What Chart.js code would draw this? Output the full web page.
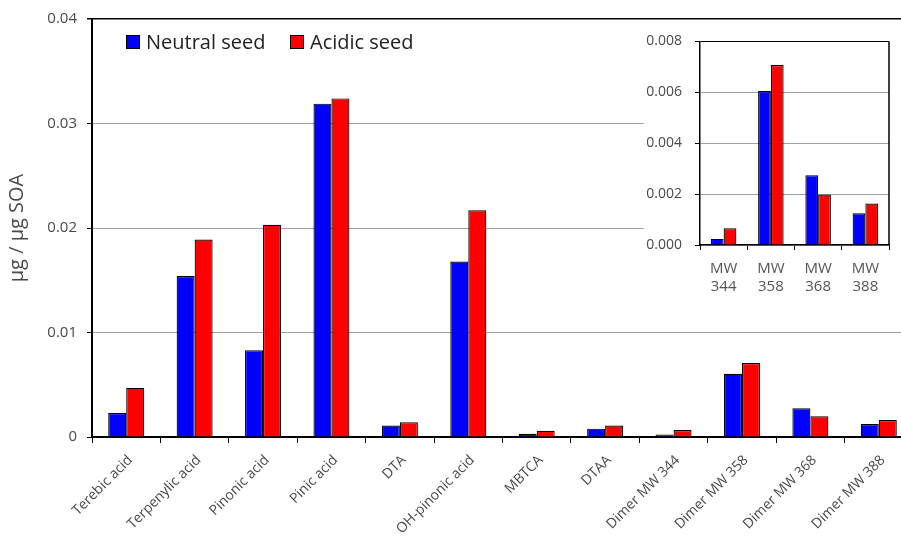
<!DOCTYPE html>
<html lang="en">
<head>
    <meta charset="UTF-8">
    <title>Seed acidity - SOA tracers</title>
    <script src="https://cdn.jsdelivr.net/npm/chart.js"></script>
    <style>
      html, body { margin: 0; padding: 0; overflow: hidden; background: #fff; }
      #wrap { position: relative; width: 901px; height: 537px; overflow: hidden; }
      #mainChart { position: absolute; left: 0; top: 0; }
      #insetChart { position: absolute; left: 644px; top: 20px; background: #fff; }
    </style>
</head>
<body>
<div id="wrap">
    <canvas id="mainChart" width="916" height="537"></canvas>
    <canvas id="insetChart" width="257" height="290"></canvas>
</div>

<script>
    const categories = ['Terebic acid', 'Terpenylic acid', 'Pinonic acid', 'Pinic acid', 'DTA',
        'OH-pinonic acid', 'MBTCA', 'DTAA', 'Dimer MW 344', 'Dimer MW 358', 'Dimer MW 368', 'Dimer MW 388'];
    const neutralSeed = [0.0023, 0.0154, 0.0083, 0.0319, 0.0011, 0.0168, 0.0003, 0.0008,
        0.00024, 0.00605, 0.00274, 0.00125];
    const acidicSeed = [0.0047, 0.0189, 0.0203, 0.0324, 0.0014, 0.0217, 0.0006, 0.0011,
        0.00066, 0.00707, 0.00198, 0.00163];
    const mainTicks = ['0', '0.01', '0.02', '0.03', '0.04'];

    // inset: the four dimers
    const insetCategories = [['MW', '344'], ['MW', '358'], ['MW', '368'], ['MW', '388']];
    const insetNeutral = neutralSeed.slice(8);
    const insetAcidic = acidicSeed.slice(8);
    const insetTicks = ['0.000', '0.002', '0.004', '0.006', '0.008'];

    const FONT = '"Open Sans", "Noto Sans", sans-serif';
    const TEXT = '#4a4a4a';

    const legendPlugin = {
        id: 'legendPlugin',
        afterDraw(chart) {
            const {ctx, chartArea} = chart;
            ctx.save();
            ctx.font = '20px ' + FONT;
            ctx.textBaseline = 'middle';
            let x = chartArea.left + 34;
            const y = chartArea.top + 16;
            chart.data.datasets.forEach(ds => {
                ctx.fillStyle = ds.backgroundColor;
                ctx.fillRect(x, y, 14, 14);
                ctx.strokeStyle = '#000';
                ctx.lineWidth = 1;
                ctx.strokeRect(x + 0.5, y + 0.5, 13, 13);
                ctx.fillStyle = '#222';
                ctx.fillText(ds.label, x + 20, y + 8);
                x += 164;
            });
            ctx.restore();
        }
    };

    const rightBorder = {
        id: 'rightBorder',
        afterDraw(chart) {
            const {ctx, chartArea} = chart;
            ctx.save();
            ctx.strokeStyle = '#000';
            ctx.lineWidth = 1.5;
            ctx.beginPath();
            ctx.moveTo(chartArea.right, chartArea.top);
            ctx.lineTo(chartArea.right, chartArea.bottom);
            ctx.stroke();
            ctx.restore();
        }
    };

    function barSet(label, data, color) {
        return {
            label: label,
            data: data,
            backgroundColor: color,
            borderColor: '#000',
            borderWidth: 1.2,
            borderSkipped: 'start'
        };
    }

    new Chart(document.getElementById('mainChart'), {
        type: 'bar',
        data: {
            labels: categories,
            datasets: [
                barSet('Neutral seed', neutralSeed, '#0000ff'),
                barSet('Acidic seed', acidicSeed, '#ff0000')
            ]
        },
        options: {
            responsive: false,
            animation: false,
            datasets: { bar: { categoryPercentage: 0.526, barPercentage: 1 } },
            layout: { padding: { top: 17, right: 3, left: 0, bottom: 0 } },
            plugins: { legend: { display: false }, tooltip: { enabled: false } },
            scales: {
                x: {
                    grid: { drawOnChartArea: false, tickLength: 6, tickColor: '#000', offset: true },
                    border: { color: '#000', width: 2 },
                    ticks: {
                        minRotation: 45, maxRotation: 45, autoSkip: false, padding: 9, labelOffset: 4,
                        color: TEXT, font: { family: FONT, size: 14 }
                    },
                    afterFit(scale) { scale.height = 100; }
                },
                y: {
                    min: 0, max: 0.04,
                    ticks: {
                        stepSize: 0.01, padding: 10, color: TEXT,
                        font: { family: FONT, size: 15 },
                        callback: (v, i) => mainTicks[i]
                    },
                    grid: {
                        color: c => (c.tick && c.tick.value >= 0.0399) ? '#000' : '#a0a0a0',
                        lineWidth: c => (c.tick && c.tick.value >= 0.0399) ? 1.5 : 1,
                        tickColor: '#000', tickLength: 5
                    },
                    border: { color: '#000', width: 2 },
                    title: {
                        display: true, text: 'μg / μg SOA', color: TEXT,
                        font: { family: FONT, size: 20 }, padding: { top: 5, bottom: 0 }
                    },
                    afterFit(scale) { scale.width = 92; }
                }
            }
        },
        plugins: [legendPlugin]
    });

    new Chart(document.getElementById('insetChart'), {
        type: 'bar',
        data: {
            labels: insetCategories,
            datasets: [
                barSet('Neutral seed', insetNeutral, '#0000ff'),
                barSet('Acidic seed', insetAcidic, '#ff0000')
            ]
        },
        options: {
            responsive: false,
            animation: false,
            datasets: { bar: { categoryPercentage: 0.54, barPercentage: 1 } },
            layout: { padding: { top: 15, right: 12, left: 0, bottom: 0 } },
            plugins: { legend: { display: false }, tooltip: { enabled: false } },
            scales: {
                x: {
                    grid: { drawOnChartArea: false, tickLength: 5, tickColor: '#000', offset: true },
                    border: { color: '#000', width: 1.5 },
                    ticks: {
                        maxRotation: 0, autoSkip: false, padding: 9, color: '#555',
                        font: { family: FONT, size: 15, lineHeight: 1.25 }
                    },
                    afterFit(scale) { scale.height = 65; }
                },
                y: {
                    min: 0, max: 0.008,
                    ticks: {
                        stepSize: 0.002, padding: 13, color: TEXT,
                        font: { family: FONT, size: 14 },
                        callback: (v, i) => insetTicks[i]
                    },
                    grid: {
                        color: c => (c.tick && c.tick.value >= 0.00799) ? '#000' : '#a0a0a0',
                        tickColor: '#000', tickLength: 5
                    },
                    border: { color: '#000', width: 1.5 },
                    afterFit(scale) { scale.width = 56; }
                }
            }
        },
        plugins: [rightBorder]
    });
</script>
</body>
</html>
